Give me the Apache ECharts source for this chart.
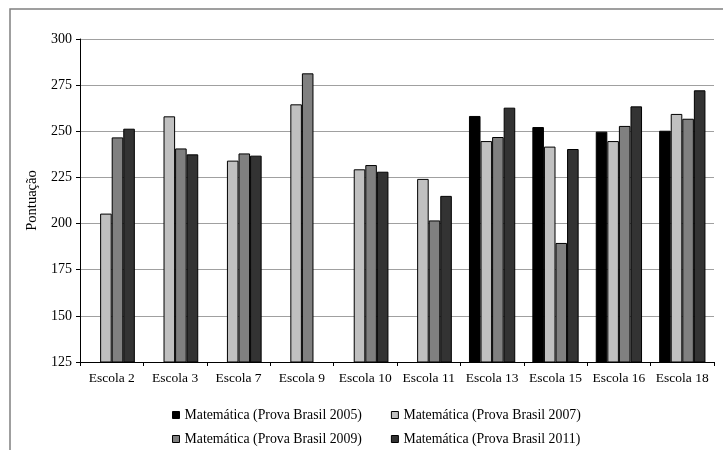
<!DOCTYPE html>
<html><head><meta charset="utf-8">
<script src="https://cdn.jsdelivr.net/npm/echarts@6/dist/echarts.min.js"></script>
<style>html,body{margin:0;padding:0;background:#fff}#c{width:723px;height:450px}</style>
</head><body><div id="c"></div>
<script>
const categories = ['Escola 2','Escola 3','Escola 7','Escola 9','Escola 10','Escola 11','Escola 13','Escola 15','Escola 16','Escola 18'];
const s2005 = [null,null,null,null,null,null,258.3,252.3,249.8,250.3];
const s2007 = [205.4,258.1,234.1,264.6,229.4,224.2,244.7,241.7,244.7,259.4];
const s2009 = [246.7,240.7,238.0,281.4,231.7,201.7,246.9,189.5,252.9,256.8];
const s2011 = [251.4,237.5,236.8,null,228.1,215.0,262.8,240.4,263.5,272.2];
const seriesNames = ['Matemática (Prova Brasil 2005)','Matemática (Prova Brasil 2007)','Matemática (Prova Brasil 2009)','Matemática (Prova Brasil 2011)'];
const colors = ['#000000','#c0c0c0','#808080','#333333'];
const yTicks = {min:125, max:300, interval:25};

const font = '"Liberation Serif","Times New Roman",serif';
const chart = echarts.init(document.getElementById('c'), null, {renderer:'canvas'});
const data = [s2005,s2007,s2009,s2011];
const legendBase = {
  itemWidth:7, itemHeight:7, itemGap:29, icon:'rect', orient:'horizontal',
  textStyle:{fontFamily:font,fontSize:13.8,color:'#000'},
  itemStyle:{borderColor:'#000',borderWidth:1}
};
chart.setOption({
  animation:false,
  textStyle:{fontFamily:font},
  graphic:[{type:'rect',shape:{x:10,y:9,width:740,height:460},style:{fill:null,stroke:'#808080',lineWidth:1.5},silent:true,z:-1}],
  grid:{left:80,right:9,top:39,bottom:88},
  legend:[
    Object.assign({left:167, top:403, data:[seriesNames[0],seriesNames[1]]}, legendBase),
    Object.assign({left:167, top:427, data:[seriesNames[2],seriesNames[3]]}, legendBase)
  ],
  xAxis:{
    type:'category', data:categories,
    axisLine:{lineStyle:{color:'#000',width:1}},
    axisTick:{show:true,length:4,lineStyle:{color:'#000'}},
    axisLabel:{color:'#000',fontFamily:font,fontSize:13.5,margin:9,interval:0},
    splitLine:{show:false}
  },
  yAxis:{
    type:'value', min:yTicks.min, max:yTicks.max, interval:yTicks.interval,
    name:'Pontuação', nameLocation:'middle', nameGap:40, nameRotate:90,
    nameTextStyle:{color:'#000',fontFamily:font,fontSize:14.5},
    axisLine:{show:true,lineStyle:{color:'#000',width:1}},
    axisTick:{show:true,length:4,inside:false,lineStyle:{color:'#000'}},
    axisLabel:{color:'#000',fontFamily:font,fontSize:14,margin:8},
    splitLine:{lineStyle:{color:'#a0a0a0',width:1}}
  },
  series:data.map((d,i)=>({
    name:seriesNames[i], type:'bar', data:d,
    barGap:'0%', barCategoryGap:'27%',
    itemStyle:{color:colors[i],borderColor:'#000',borderWidth:1}
  }))
});
</script></body></html>
